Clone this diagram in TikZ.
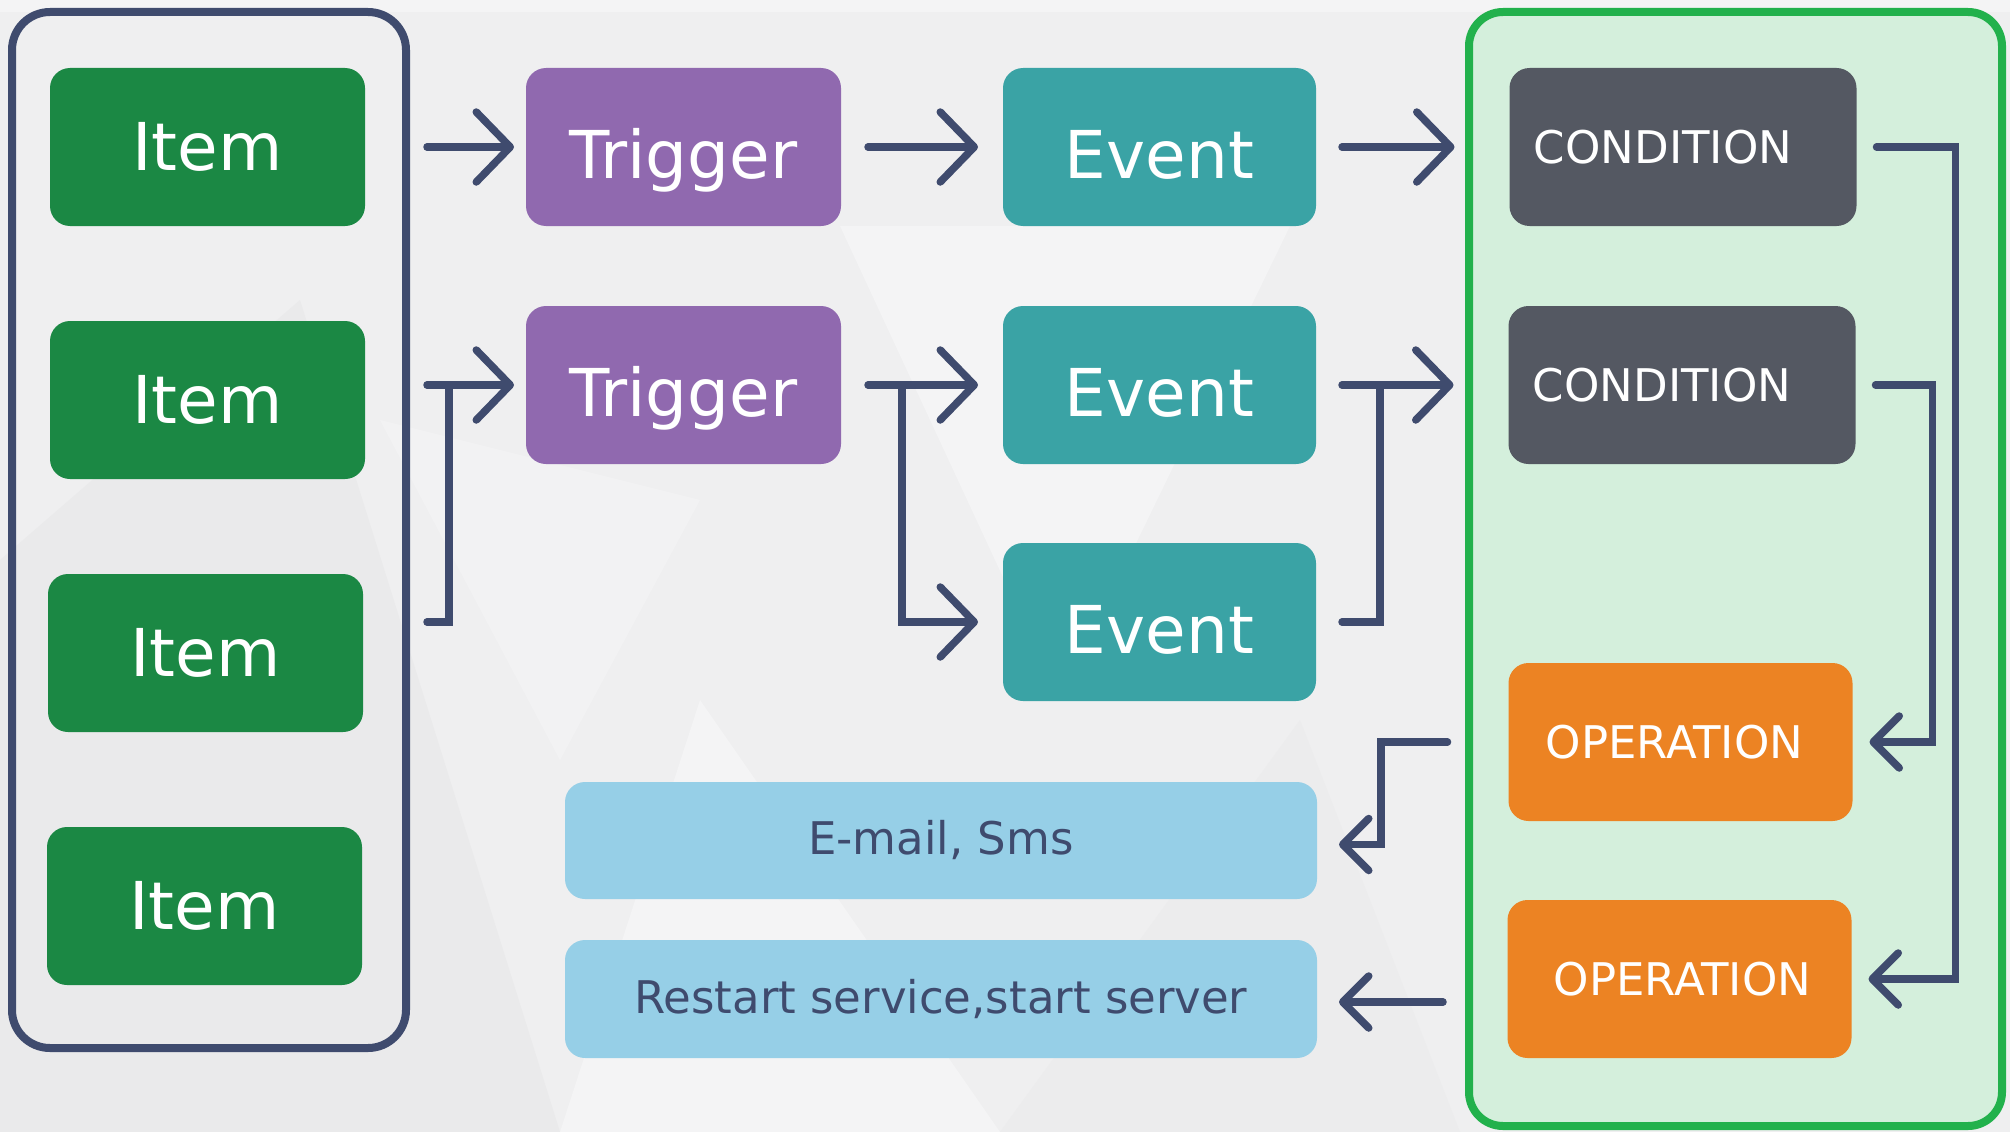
\documentclass[tikz,border=0pt]{standalone}
\usepackage{fontspec}
\setmainfont{DejaVu Sans}
\usetikzlibrary{arrows.meta,calc}

\definecolor{navy}{HTML}{3F4B6E}
\definecolor{itemgreen}{HTML}{1B8844}
\definecolor{trigpurple}{HTML}{9069AF}
\definecolor{evteal}{HTML}{3AA3A5}
\definecolor{conddark}{HTML}{545862}
\definecolor{oporange}{HTML}{EC8323}
\definecolor{lightblue}{HTML}{96CFE7}
\definecolor{panelgreen}{HTML}{22B14C}
\definecolor{panelfill}{HTML}{D4EFDC}
\definecolor{bggrey}{HTML}{EFEFF0}
\definecolor{bglight}{HTML}{F4F4F5}
\definecolor{bgdark}{HTML}{EAEAEB}

\begin{document}
\begin{tikzpicture}[x=1pt,y=-1pt,
  box/.style={rectangle, rounded corners=20pt, inner sep=0pt, outer sep=0pt,
    minimum height=158pt, text=white},
  bigtext/.style={font=\fontsize{66}{70}\selectfont},
  midtext/.style={font=\fontsize{45}{50}\selectfont},
  itembox/.style={box, bigtext, fill=itemgreen, minimum width=315pt},
  trigbox/.style={box, bigtext, fill=trigpurple, minimum width=315pt,
    text height=70pt, text depth=8pt},
  evbox/.style={box, bigtext, fill=evteal, minimum width=313pt,
    text height=70pt, text depth=8pt},
  condbox/.style={box, midtext, fill=conddark, minimum width=347pt},
  opbox/.style={box, midtext, fill=oporange, minimum width=344pt},
  actbox/.style={box, midtext, fill=lightblue, text=navy, minimum width=752pt,
    minimum height=117pt},
  conn/.style={draw=navy, line width=7.5pt, line cap=round, line join=miter},
  bigtip/.tip={Straight Barb[length=34pt,width=70pt,round]},
  smalltip/.tip={Straight Barb[length=26pt,width=52pt,round]},
]
% background
\useasboundingbox (0,0) rectangle (2010,1132);
\fill[bggrey] (0,0) rectangle (2010,1132);
\fill[bglight] (0,0) rectangle (2010,12);
\fill[bglight] (840,226) -- (1290,226) -- (1060,700) -- cycle;
\fill[bgdark] (0,560) -- (300,300) -- (560,1132) -- (0,1132) -- cycle;
\fill[bglight] (560,1132) -- (700,700) -- (1000,1132) -- cycle;
\fill[bgdark,opacity=0.6] (1000,1132) -- (1300,720) -- (1460,1132) -- cycle;
\fill[bglight,opacity=0.7] (380,420) -- (700,500) -- (560,760) -- cycle;

% panels
\node[draw=navy, line width=8pt, rounded corners=38pt, minimum width=394pt,
  minimum height=1036pt, outer sep=0pt, inner sep=0pt] (lpanel) at (209,530) {};
\node[draw=panelgreen, fill=panelfill, line width=8pt, rounded corners=34pt,
  minimum width=533pt, minimum height=1114pt, outer sep=0pt, inner sep=0pt]
  (rpanel) at (1735.5,569) {};

% items
\node[itembox] (item1) at (207.5,147) {Item};
\node[itembox] (item2) at (207.5,400) {Item};
\node[itembox] (item3) at (205.5,653) {Item};
\node[itembox] (item4) at (204.5,906) {Item};

% triggers
\node[trigbox] (trig1) at (683.5,147) {Trigger};
\node[trigbox] (trig2) at (683.5,385) {Trigger};

% events
\node[evbox] (ev1) at (1159.5,147) {Event};
\node[evbox] (ev2) at (1159.5,385) {Event};
\node[evbox] (ev3) at (1159.5,622) {Event};

% conditions
\node[condbox] (cond1) at (1683,147) {CONDITION\hspace*{40pt}};
\node[condbox] (cond2) at (1682,385) {CONDITION\hspace*{40pt}};

% operations
\node[opbox] (op1) at (1680.5,742) {OPERATION\hspace*{12pt}};
\node[opbox] (op2) at (1679.5,979) {\hspace*{6pt}OPERATION};

% actions
\node[actbox] (act1) at (941,840.5) {E-mail, Sms};
\node[actbox, minimum height=118pt] (act2) at (941,999) {Restart service,start server};

% connectors: items -> triggers
\draw[conn,-{bigtip}] ($(lpanel.east |- trig1.west)+(21,0)$) -- ($(trig1.west)+(-12,0)$);
\draw[conn,-{bigtip}] ($(lpanel.east |- trig2.west)+(21,0)$) -- ($(trig2.west)+(-12,0)$);
\draw[conn] ($(lpanel.east |- ev3.west)+(21,0)$) -| ($(lpanel.east |- trig2.west)+(43,0)$);

% triggers -> events
\draw[conn,-{bigtip}] ($(trig1.east)+(27,0)$) -- ($(ev1.west)+(-25,0)$);
\draw[conn,-{bigtip}] ($(trig2.east)+(27,0)$) -- ($(ev2.west)+(-25,0)$);
\draw[conn,-{bigtip}] ($(trig2.east)+(61,0)$) |- ($(ev3.west)+(-25,0)$);

% events -> conditions
\draw[conn,-{bigtip}] ($(ev1.east)+(26,0)$) -- ($(cond1.west)+(-55,0)$);
\draw[conn,-{bigtip}] ($(ev2.east)+(26,0)$) -- ($(cond2.west)+(-55,0)$);
\draw[conn] ($(ev3.east)+(26,0)$) -| ($(ev2.east)+(64,0)$);

% conditions -> operations
\draw[conn,-{smalltip}] ($(cond1.east)+(20,0)$) -| ($(op2.east)+(104,0)$) -- ($(op2.east)+(17,0)$);
\draw[conn,-{smalltip}] ($(cond2.east)+(20,0)$) -| ($(op1.east)+(80,0)$) -- ($(op1.east)+(17,0)$);

% operations -> actions
\draw[conn,-{smalltip}] ($(op1.west)+(-61,0)$) -| ($(act1.east)+(64,4)$) -- ($(act1.east)+(22,4)$);
\draw[conn,-{smalltip}] ($(act2.east)+(126,3)$) -- ($(act2.east)+(22,3)$);
\end{tikzpicture}
\end{document}
